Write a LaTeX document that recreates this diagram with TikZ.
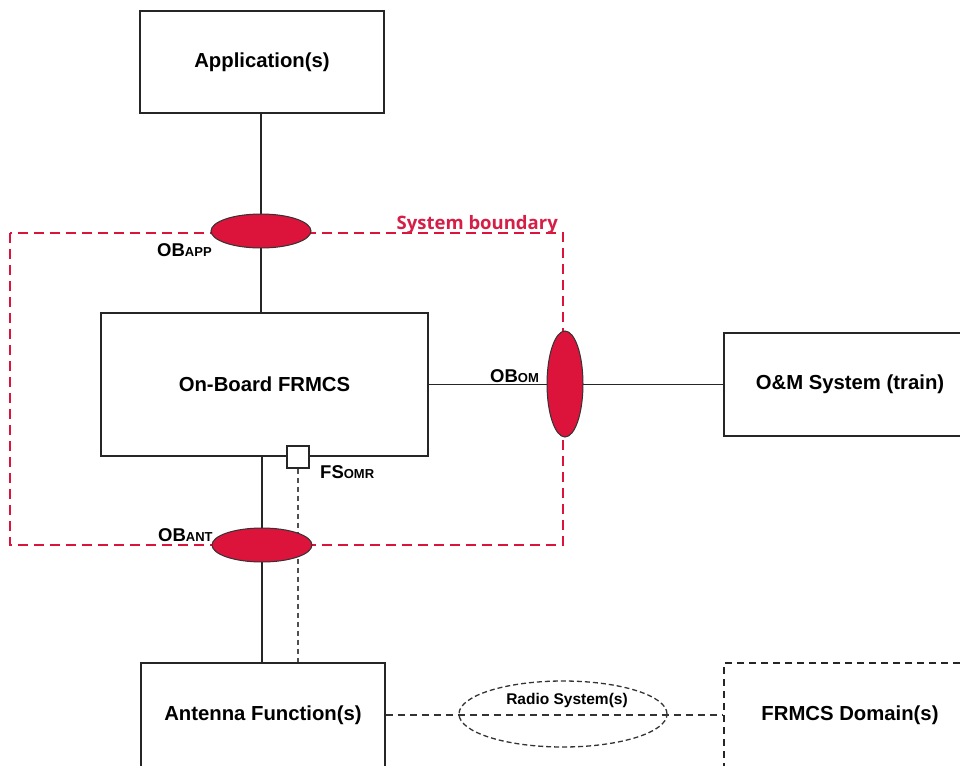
\documentclass[tikz,border=0pt]{standalone}
\usepackage{fontspec}
\setmainfont{Liberation Sans}
\newfontfamily\sbfont{Open Sans}
\usetikzlibrary{shapes.geometric,backgrounds}
\definecolor{obred}{RGB}{220,20,60}
\definecolor{sbred}{RGB}{214,30,70}
\definecolor{dgray}{RGB}{80,80,80}
\tikzset{
  box/.style={draw=black!85, line width=1.2pt, fill=white, inner sep=0pt, font=\fontsize{20.3}{22}\selectfont\bfseries},
  dbox/.style={box, dashed, dash pattern=on 7pt off 5pt},
  refpoint/.style={ellipse, draw=black!80, line width=1pt, fill=obred, inner sep=0pt},
  conn/.style={draw=black!85, line width=1.2pt},
  dconn/.style={draw=black!80, line width=1.3pt, dash pattern=on 7pt off 5pt},
  gconn/.style={draw=dgray, line width=1.2pt, dash pattern=on 5pt off 4pt},
  lbl/.style={inner sep=0pt, anchor=base west},
}
\newcommand{\obl}[2]{{\fontsize{18.5}{20}\selectfont\bfseries #1}{\fontsize{13}{14}\selectfont\bfseries #2}}
\begin{document}
\begin{tikzpicture}[x=1pt,y=-1pt]
\useasboundingbox (0,0) rectangle (960,765);
\clip (0,0) rectangle (960,765);
% boxes
\node[box, minimum width=244pt, minimum height=102pt] (app) at (262,62) {Application(s)};
\node[box, minimum width=327pt, minimum height=143pt] (onb) at (264.5,384.5) {On-Board FRMCS};
\node[box, minimum width=252pt, minimum height=103pt] (om) at (850,384.5) {O\&M System (train)};
\node[box, minimum width=244pt, minimum height=104pt] (ant) at (263,715) {Antenna Function(s)};
\node[dbox, minimum width=252pt, minimum height=104pt] (dom) at (850,715) {FRMCS Domain(s)};
% system boundary
\draw[draw=obred, line width=2.8pt, dash pattern=on 10pt off 6pt] (10,233) rectangle (563,545);
\node[inner sep=0pt, anchor=base east, text=sbred, font=\sbfont\bfseries\fontsize{18.5}{20}\selectfont] (sbl) at (558,229) {System boundary};
% ellipses
\node[refpoint, minimum width=100pt, minimum height=34pt] (obapp) at (261,231) {};
\node[refpoint, minimum width=100pt, minimum height=34pt] (obant) at (262,545) {};
\node[refpoint, minimum width=36pt, minimum height=106pt] (obom) at (565,384) {};
\node[ellipse, draw=black!80, line width=1.3pt, dash pattern=on 5pt off 3pt, minimum width=208pt, minimum height=66pt, inner sep=0pt] (radio) at (563,714) {};
\node[inner sep=0pt, font=\fontsize{15.5}{17}\selectfont\bfseries] (radiolbl) at (567,700) {Radio System(s)};
% square
\node[draw=black!85, line width=1.1pt, fill=white, minimum size=22pt, inner sep=0pt] (fsq) at (298,457) {};
% labels
\node[lbl] (lapp) at (157,256) {\obl{OB}{APP}};
\node[lbl] (lant) at (158,541) {\obl{OB}{ANT}};
\node[lbl] (lom) at (490,382) {\obl{OB}{OM}};
\node[lbl] (lfs) at (320,478) {\obl{FS}{OMR}};
% connectors
\begin{pgfonlayer}{background}
\fill[white] (0,0) rectangle (960,765);
\draw[conn] (app.south -| obapp) -- (onb.north -| obapp);
\draw[conn] (onb.east) -- (om.west);
\draw[conn] (onb.south -| obant) -- (ant.north -| obant);
\draw[gconn] (fsq.south) -- (ant.north -| fsq);
\draw[dconn] (ant.east) -- (dom.west);
\end{pgfonlayer}
\end{tikzpicture}
\end{document}
